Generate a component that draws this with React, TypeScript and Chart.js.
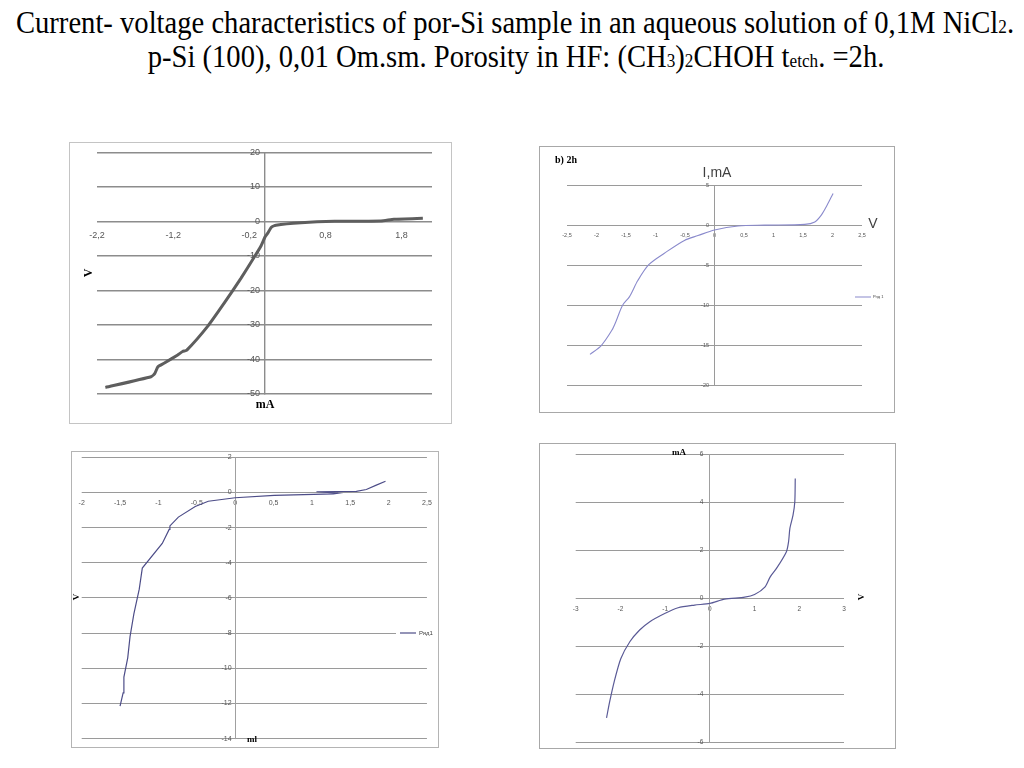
import React, { useEffect, useRef } from "react";
import { Chart, registerables } from "chart.js";

Chart.register(...registerables);

const SANS = '"Liberation Sans", Arial, sans-serif';
const SERIF = '"Liberation Serif", "Times New Roman", serif';

// ---------- Panel A: current (mA) vs voltage (V) ----------
const panelA_mA = [-2.09, -1.49, -1.44, -1.4, -1.32, -1.14, -1.075, -1.02, -0.75, -0.53, -0.31, -0.13, -0.05, 0.01, 0.04, 0.09, 0.15, 0.48, 0.92, 1.53, 1.7, 2.08];
const panelA_V = [-48.1, -45.0, -44.0, -42.1, -41.1, -38.7, -37.7, -37.3, -30.5, -23.7, -16.5, -10.2, -7.3, -4.4, -3.5, -1.7, -1.1, -0.4, 0.0, 0.1, 0.6, 0.9];
const panelA_xTicks = [-2.2, -1.2, -0.2, 0.8, 1.8];
const panelA_yTicks = [20, 10, 0, -10, -20, -30, -40, -50];

// ---------- Panel B: "b) 2h", voltage (V) vs current I (mA) ----------
const panelB_V = [-2.11, -1.92, -1.74, -1.67, -1.56, -1.44, -1.3, -1.11, -0.85, -0.51, -0.28, 0.0, 0.4, 0.85, 1.53, 1.7, 1.81, 1.91, 2.01];
const panelB_mA = [-16.1, -15.0, -13.1, -12.0, -10.0, -8.9, -6.9, -4.9, -3.5, -1.9, -1.3, -0.6, -0.1, 0.0, 0.1, 0.4, 1.25, 2.5, 3.95];
const panelB_xTicks = [-2.5, -2, -1.5, -1, -0.5, 0, 0.5, 1, 1.5, 2, 2.5];
const panelB_yTicks = [5, 0, -5, -10, -15, -20];

// ---------- Panel C: current (mI) vs voltage (V) ----------
const panelC_mI = [-1.5, -1.46, -1.45, -1.4, -1.37, -1.32, -1.25, -1.21, -0.95, -0.86, -0.85, -0.74, -0.52, -0.35, 0.0, 0.51, 1.28, 1.34, 1.06, 1.58, 1.71, 1.84, 1.96];
const panelC_V = [-12.15, -11.4, -10.5, -9.4, -8.2, -6.9, -5.5, -4.3, -2.9, -2.1, -1.9, -1.4, -0.8, -0.5, -0.3, -0.17, -0.08, -0.04, 0.04, 0.06, 0.17, 0.42, 0.64];
const panelC_xTicks = [-2, -1.5, -1, -0.5, 0, 0.5, 1, 1.5, 2, 2.5];
const panelC_yTicks = [2, 0, -2, -4, -6, -8, -10, -12, -14];

// ---------- Panel D: voltage (V) vs current (mA) ----------
const panelD_V = [-2.31, -2.24, -2.14, -1.99, -1.79, -1.57, -1.35, -1.01, -0.71, -0.34, 0.0, 0.33, 0.78, 1.0, 1.23, 1.35, 1.49, 1.71, 1.76, 1.79, 1.86, 1.9, 1.91];
const panelD_mA = [-4.99, -4.32, -3.49, -2.52, -1.82, -1.33, -0.99, -0.64, -0.4, -0.29, -0.22, -0.04, 0.04, 0.15, 0.46, 0.89, 1.24, 1.93, 2.35, 2.91, 3.46, 4.02, 4.99];
const panelD_xTicks = [-3, -2, -1, 0, 1, 2, 3];
const panelD_yTicks = [6, 4, 2, 0, -2, -4, -6];

const fmt = (v: number) => String(v).replace(".", ",");
const fixedTicks = (values: number[]) => (scale: any) => {
  scale.ticks = values.map((value) => ({ value }));
};

const legendPlace = {
  id: "legendPlace",
  afterLayout(chart: any, _a: any, opts: any) {
    const lg = chart.legend;
    if (!lg || opts == null || opts.x == null) return;
    const pad = lg.options.labels.padding || 0;
    const w = lg.width;
    lg.left = opts.x - pad;
    lg.right = lg.left + w;
    lg.top = opts.y - 20;
    lg.bottom = opts.y + 20;
    lg.height = 40;
  },
  afterDraw(chart: any, _a: any, opts: any) {
    const lg = chart.legend;
    if (!lg || !opts || !opts.clear) return;
    const ctx = chart.ctx;
    ctx.save();
    ctx.fillStyle = "#ffffff";
    ctx.fillRect(lg.left - 2, opts.y - 4, lg.width + 4, 8);
    ctx.restore();
    lg.draw();
  },
};

type Spec = {
  xs: number[];
  ys: number[];
  label: string;
  xMin: number;
  xMax: number;
  yMin: number;
  yMax: number;
  xTicks: number[];
  yTicks: number[];
  color: string;
  lineWidth: number;
  tension: number;
  fontSize: number;
  tickColor: string;
  xPad: number;
  ySuffix: string;
  gridColor: string;
  gridWidth: number;
  axisColor: string;
  axisWidth: number;
  padding: { left: number; right: number; top: number; bottom: number };
  legend?: { x: number; y: number; fontSize: number; boxW: number; clear?: boolean };
};

function makeConfig(s: Spec): any {
  const font = { family: SANS, size: s.fontSize };
  return {
    type: "scatter",
    data: {
      datasets: [
        {
          label: s.label,
          data: s.xs.map((x, i) => ({ x, y: s.ys[i] })),
          showLine: true,
          borderColor: s.color,
          backgroundColor: s.color,
          borderWidth: s.lineWidth,
          pointRadius: 0,
          tension: s.tension,
          fill: false,
        },
      ],
    },
    options: {
      animation: false,
      responsive: true,
      maintainAspectRatio: false,
      events: [],
      layout: { padding: s.padding },
      plugins: {
        tooltip: { enabled: false },
        title: { display: false },
        legend: s.legend
          ? {
              display: true,
              position: "chartArea",
              align: "center",
              labels: {
                usePointStyle: true,
                pointStyle: "line",
                pointStyleWidth: s.legend.boxW,
                boxHeight: s.legend.fontSize,
                padding: 2,
                color: "#404040",
                font: { family: SANS, size: s.legend.fontSize },
              },
            }
          : { display: false },
        legendPlace: s.legend ? { x: s.legend.x, y: s.legend.y, clear: !!s.legend.clear } : {},
      },
      scales: {
        x: {
          type: "linear",
          min: s.xMin,
          max: s.xMax,
          position: { y: 0 },
          afterBuildTicks: fixedTicks(s.xTicks),
          grid: { display: false, drawTicks: false },
          border: { display: false },
          ticks: {
            autoSkip: false,
            maxRotation: 0,
            padding: s.xPad,
            color: s.tickColor,
            font,
            callback: (v: number) => fmt(v),
          },
        },
        y: {
          type: "linear",
          min: s.yMin,
          max: s.yMax,
          position: { x: 0 },
          afterBuildTicks: fixedTicks(s.yTicks),
          grid: { color: s.gridColor, lineWidth: s.gridWidth, drawTicks: false },
          border: { display: true, color: s.axisColor, width: s.axisWidth },
          ticks: {
            autoSkip: false,
            padding: 0,
            color: s.tickColor,
            font,
            callback: (v: number) => fmt(v) + s.ySuffix,
          },
        },
      },
    },
    plugins: [legendPlace],
  };
}

function ChartPanel(props: { left: number; top: number; width: number; height: number; border: string; spec: Spec }) {
  const ref = useRef<HTMLCanvasElement>(null);
  useEffect(() => {
    if (!ref.current) return;
    const chart = new Chart(ref.current, makeConfig(props.spec));
    return () => chart.destroy();
  }, []);
  return (
    <div
      style={{
        position: "absolute",
        left: props.left,
        top: props.top,
        width: props.width,
        height: props.height,
        border: `1px solid ${props.border}`,
        background: "#fff",
      }}
    >
      <div style={{ position: "relative", width: props.width, height: props.height }}>
        <canvas ref={ref} />
      </div>
    </div>
  );
}

function Label(p: {
  x: number;
  y: number;
  text: string;
  size: number;
  family?: string;
  weight?: number | string;
  color?: string;
  rotate?: number;
}) {
  return (
    <div
      style={{
        position: "absolute",
        left: p.x,
        top: p.y,
        transform: `translate(-50%, -50%) rotate(${p.rotate || 0}deg)`,
        fontFamily: p.family || SERIF,
        fontSize: p.size,
        fontWeight: p.weight || "normal",
        color: p.color || "#000",
        whiteSpace: "nowrap",
        lineHeight: 1,
      }}
    >
      {p.text}
    </div>
  );
}

const sub: React.CSSProperties = { fontSize: "0.6em" };

export default function App() {
  const specA: Spec = {
    xs: panelA_mA, ys: panelA_V, label: "Ряд1",
    xMin: -2.2, xMax: 2.2, yMin: -50, yMax: 20,
    xTicks: panelA_xTicks, yTicks: panelA_yTicks,
    color: "#5e5e5e", lineWidth: 3, tension: 0.15,
    fontSize: 9, tickColor: "#555", xPad: 8.5, ySuffix: "\u2002",
    gridColor: "#8c8c8c", gridWidth: 1.4, axisColor: "#8c8c8c", axisWidth: 1.4,
    padding: { left: 27, right: 19, top: 9.3, bottom: 29 },
  };
  const specB: Spec = {
    xs: panelB_V, ys: panelB_mA, label: "Ряд 1",
    xMin: -2.5, xMax: 2.5, yMin: -20, yMax: 5,
    xTicks: panelB_xTicks, yTicks: panelB_yTicks,
    color: "#8a8acc", lineWidth: 1.1, tension: 0.3,
    fontSize: 5.5, tickColor: "#555", xPad: 7.4, ySuffix: "\u2003",
    gridColor: "#9a9a9a", gridWidth: 1, axisColor: "#9a9a9a", axisWidth: 1,
    padding: { left: 27, right: 32, top: 38, bottom: 26.3 },
    legend: { x: 315, y: 150, fontSize: 4, boxW: 16 },
  };
  const specC: Spec = {
    xs: panelC_mI, ys: panelC_V, label: "Ряд1",
    xMin: -2, xMax: 2.5, yMin: -14, yMax: 2,
    xTicks: panelC_xTicks, yTicks: panelC_yTicks,
    color: "#4d4d88", lineWidth: 1.2, tension: 0,
    fontSize: 7, tickColor: "#555", xPad: 6.2, ySuffix: "\u2002",
    gridColor: "#9a9a9a", gridWidth: 1.1, axisColor: "#a0a0a0", axisWidth: 1,
    padding: { left: 9.7, right: 6.3, top: 5.3, bottom: 8.3 },
    legend: { x: 328, y: 181, fontSize: 6, boxW: 16, clear: true },
  };
  const specD: Spec = {
    xs: panelD_V, ys: panelD_mA, label: "Ряд1",
    xMin: -3, xMax: 3, yMin: -6, yMax: 6,
    xTicks: panelD_xTicks, yTicks: panelD_yTicks,
    color: "#5a5a96", lineWidth: 1.2, tension: 0.25,
    fontSize: 6.5, tickColor: "#555", xPad: 6.8, ySuffix: "\u2003",
    gridColor: "#9a9a9a", gridWidth: 1, axisColor: "#a0a0a0", axisWidth: 1,
    padding: { left: 35.7, right: 51, top: 10.3, bottom: 6 },
  };

  return (
    <div style={{ position: "absolute", left: 0, top: 0, width: 1024, height: 768, background: "#fff", overflow: "hidden" }}>
      <div
        style={{
          position: "absolute", left: 515, top: 7, transform: "translateX(-50%) scaleX(0.923)",
          fontFamily: SERIF, fontSize: 31, lineHeight: "31px", whiteSpace: "nowrap", color: "#000",
        }}
      >
        Current- voltage characteristics of por-Si sample in an aqueous solution of 0,1M NiCl<span style={sub}>2</span>.
      </div>
      <div
        style={{
          position: "absolute", left: 516, top: 41, transform: "translateX(-50%) scaleX(0.923)",
          fontFamily: SERIF, fontSize: 31, lineHeight: "31px", whiteSpace: "nowrap", color: "#000",
        }}
      >
        p-Si (100), 0,01 Om.sm. Porosity in HF: (CH<span style={sub}>3</span>)<span style={sub}>2</span>CHOH t<span style={sub}>etch</span>. =2h.
      </div>

      <ChartPanel left={69} top={142} width={381} height={280} border="#c4c4c4" spec={specA} />
      <ChartPanel left={539} top={146} width={354} height={265} border="#a8a8a8" spec={specB} />
      <ChartPanel left={71} top={451} width={366} height={295} border="#b4b4b4" spec={specC} />
      <ChartPanel left={539} top={443} width={355} height={304} border="#a8a8a8" spec={specD} />

      {/* Panel A axis titles */}
      <Label x={88} y={273} text="V" size={12} weight="bold" rotate={-90} />
      <Label x={265} y={404} text="mA" size={12} weight="bold" />

      {/* Panel B texts */}
      <Label x={566} y={160} text="b) 2h" size={10} weight="bold" />
      <Label x={717} y={172} text="I,mA" size={14} family={SANS} color="#404040" />
      <Label x={873} y={223} text="V" size={14} family={SANS} color="#404040" />

      {/* Panel C axis titles */}
      <Label x={76} y={597} text="V" size={9} weight="bold" rotate={-90} />
      <Label x={252} y={739} text="ml" size={9} weight="bold" />

      {/* Panel D axis titles */}
      <Label x={679} y={452} text="mA" size={9} weight="bold" />
      <Label x={861} y={597} text="V" size={9} weight="bold" rotate={-90} />
    </div>
  );
}
